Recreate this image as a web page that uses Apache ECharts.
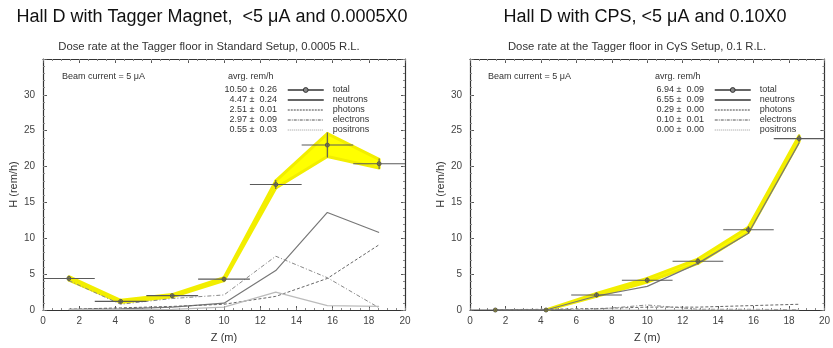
<!DOCTYPE html>
<html>
<head>
<meta charset="utf-8">
<script src="https://cdn.jsdelivr.net/npm/echarts@6/dist/echarts.min.js"></script>
<style>html,body{margin:0;padding:0;background:#fff;}#c{width:833px;height:348px;}</style>
</head>
<body>
<div id="c"></div>
<script>
// ---- data ----
const binCenters = [1.43, 4.29, 7.14, 10.0, 12.86, 15.71, 18.57];
const binLo = [0, 2.86, 5.71, 8.57, 11.43, 14.29, 17.14];
const binHi = [2.86, 5.71, 8.57, 11.43, 14.29, 17.14, 20];

const totalL = [4.4, 1.2, 2.0, 4.3, 17.5, 23.0, 20.4];
const errL = [0.25, 0.15, 0.15, 0.2, 0.5, 1.6, 0.6];
const neutronsL = [0.1, 0.15, 0.4, 0.95, 5.5, 13.6, 10.8];
const photonsL = [0.1, 0.3, 0.5, 0.8, 1.9, 4.4, 9.1];
const electronsL = [4.1, 0.8, 1.6, 2.1, 7.5, 4.5, 0.3];
const positronsL = [0.05, 0.05, 0.1, 0.4, 2.5, 0.6, 0.5];

const totalR = [0.0, 0.0, 2.1, 4.15, 6.8, 11.2, 23.9];
const errR = [0.0, 0.0, 0.2, 0.25, 0.3, 0.35, 0.4];
const neutronsR = [0.0, 0.0, 1.95, 3.3, 6.5, 10.7, 23.3];
const photonsR = [0.05, 0.1, 0.2, 0.4, 0.4, 0.6, 0.8];
const electronsR = [0.0, 0.05, 0.1, 0.7, 0.1, 0.1, 0.05];
const positronsR = [0, 0, 0, 0, 0, 0, 0];

const avgL = ['10.50 \u00b1  0.26', '4.47 \u00b1  0.24', '2.51 \u00b1  0.01', '2.97 \u00b1  0.09', '0.55 \u00b1  0.03'];
const avgR = ['6.94 \u00b1  0.09', '6.55 \u00b1  0.09', '0.29 \u00b1  0.00', '0.10 \u00b1  0.01', '0.00 \u00b1  0.00'];

const mainTitleL = 'Hall D with Tagger Magnet,  <5 \u03bcA and 0.0005X0';
const mainTitleR = 'Hall D with CPS, <5 \u03bcA and 0.10X0';
const subTitleL = 'Dose rate at the Tagger floor in Standard Setup, 0.0005 R.L.';
const subTitleR = 'Dose rate at the Tagger floor in C\u03b3S Setup, 0.1 R.L.';
const beamText = 'Beam current = 5 \u03bcA';

// ---- helpers ----
const FONT = 'Liberation Sans, Arial, sans-serif';
const pairs = (xs, ys) => xs.map((x, i) => [x, ys[i]]);
const AX_PER_GRID = 4;

function axesFor(gi) {
  function mk(dir, pos, major, labeled) {
    const isX = dir === 'x';
    const a = {
      type: 'value', gridIndex: gi, position: pos, min: 0,
      max: isX ? 20 : 35,
      interval: isX ? (major ? 2 : 0.5) : (major ? 5 : 1),
      axisLine: { show: major, onZero: false, lineStyle: { color: '#333', width: 1.2 } },
      axisTick: { show: true, inside: true, length: major ? 4 : 2,
        lineStyle: { color: major ? '#555' : '#888' } },
      splitLine: { show: false },
      axisLabel: { show: false }
    };
    if (labeled) {
      a.axisLabel = { show: true, color: '#444', fontSize: 10, fontFamily: FONT,
        margin: isX ? 6 : 8, formatter: v => (v > 30 ? '' : v) };
      if (isX) {
        a.name = 'Z (m)'; a.nameLocation = 'middle'; a.nameGap = 22;
      } else {
        a.name = 'H (rem/h)'; a.nameLocation = 'middle'; a.nameGap = 24; a.nameRotate = 90;
      }
      a.nameTextStyle = { color: '#333', fontSize: 11, fontFamily: FONT };
    }
    return a;
  }
  return {
    x: [mk('x', 'bottom', true, true), mk('x', 'bottom', false, false),
        mk('x', 'top', true, false), mk('x', 'top', false, false)],
    y: [mk('y', 'left', true, true), mk('y', 'left', false, false),
        mk('y', 'right', true, false), mk('y', 'right', false, false)]
  };
}

function seriesFor(gi, total, err, neu, pho, ele, pos) {
  const xi = gi * AX_PER_GRID, yi = gi * AX_PER_GRID;
  const base = { xAxisIndex: xi, yAxisIndex: yi, showSymbol: false, symbol: 'none', animation: false };
  const segs = [];
  for (let i = 0; i < binCenters.length - 1; i++) {
    segs.push([binCenters[i], total[i] - err[i], total[i] + err[i],
               binCenters[i + 1], total[i + 1] - err[i + 1], total[i + 1] + err[i + 1]]);
  }
  return [
    {
      type: 'custom', name: 'band' + gi, xAxisIndex: xi, yAxisIndex: yi, z: 1, animation: false,
      data: segs,
      renderItem: function (params, api) {
        const x0 = api.value(0), l0 = api.value(1), h0 = api.value(2);
        const x1 = api.value(3), l1 = api.value(4), h1 = api.value(5);
        if (h0 <= 0 && h1 <= 0) return null;
        const pts = [api.coord([x0, h0]), api.coord([x1, h1]), api.coord([x1, l1]), api.coord([x0, l0])];
        return { type: 'polygon', shape: { points: pts },
          style: { fill: '#ffff00', stroke: '#f2ee00', lineWidth: 3, lineJoin: 'round' } };
      }
    },
    Object.assign({}, base, { type: 'line', name: 'neutrons', data: pairs(binCenters, neu),
      lineStyle: { color: '#777', width: 1.2 }, itemStyle: { color: '#555' }, z: 3 }),
    Object.assign({}, base, { type: 'line', name: 'photons', data: pairs(binCenters, pho),
      lineStyle: { color: '#666', width: 1, type: [3, 2] }, itemStyle: { color: '#555' }, z: 3 }),
    Object.assign({}, base, { type: 'line', name: 'electrons', data: pairs(binCenters, ele),
      lineStyle: { color: '#888', width: 1, type: [4, 2, 1, 2] }, itemStyle: { color: '#777' }, z: 3 }),
    Object.assign({}, base, { type: 'line', name: 'positrons', data: pairs(binCenters, pos),
      lineStyle: { color: '#bbb', width: 1.2 }, itemStyle: { color: '#aaa' }, z: 3 }),
    Object.assign({}, base, { type: 'line', name: 'total', data: pairs(binCenters, total),
      showSymbol: true, symbol: 'circle', symbolSize: 4,
      itemStyle: { color: '#b8b000', borderColor: '#555', borderWidth: 1 },
      lineStyle: { color: '#ffff00', width: 0 }, z: 4 }),
    {
      type: 'custom', name: 'errbars' + gi, xAxisIndex: xi, yAxisIndex: yi, z: 5, animation: false,
      data: binCenters.map((c, i) => [c, total[i], err[i], binLo[i], binHi[i]]),
      renderItem: function (params, api) {
        const c = api.value(0), y = api.value(1), e = api.value(2), lo = api.value(3), hi = api.value(4);
        const pL = api.coord([lo, y]), pR = api.coord([hi, y]);
        const pT = api.coord([c, y + e]), pB = api.coord([c, y - e]);
        const st = { stroke: '#5a5a5a', lineWidth: 1.1, fill: null };
        return { type: 'group', children: [
          { type: 'line', shape: { x1: pL[0], y1: pL[1], x2: pR[0], y2: pR[1] }, style: st },
          { type: 'line', shape: { x1: pT[0], y1: pT[1] - 1, x2: pB[0], y2: pB[1] + 1 }, style: st }
        ] };
      }
    }
  ];
}

function legendFor(left) {
  const hide = { opacity: 0, color: 'rgba(0,0,0,0)', borderWidth: 0 };
  return {
    orient: 'vertical', left: left, top: 85, padding: 0,
    itemWidth: 36, itemHeight: 6, itemGap: 0,
    selectedMode: false,
    textStyle: { color: '#333', fontSize: 9, lineHeight: 10, fontFamily: FONT, padding: [0, 0, 0, 4] },
    data: [
      { name: 'total', itemStyle: { color: '#888', borderColor: '#333', borderWidth: 1 },
        lineStyle: { color: '#333', width: 1.5, type: 'solid', opacity: 1 } },
      { name: 'neutrons', itemStyle: hide, lineStyle: { color: '#333', width: 1.3, type: 'solid' } },
      { name: 'photons', itemStyle: hide, lineStyle: { color: '#444', width: 1, type: [2, 1] } },
      { name: 'electrons', itemStyle: hide, lineStyle: { color: '#555', width: 1, type: [3, 1, 1, 1] } },
      { name: 'positrons', itemStyle: hide, lineStyle: { color: '#999', width: 1, type: [1, 1] } }
    ]
  };
}

function textEl(x, y, text, size, color, align) {
  return {
    type: 'text', x: x, y: y, silent: true,
    style: { text: text, fontSize: size, fill: color, fontFamily: FONT,
      textAlign: align || 'left', textVerticalAlign: 'middle' }
  };
}

const axL = axesFor(0), axR = axesFor(1);
const chart = echarts.init(document.getElementById('c'), null, { renderer: 'canvas' });
chart.setOption({
  animation: false,
  backgroundColor: '#fff',
  grid: [
    { left: 43, right: 428, top: 59, bottom: 36 },
    { left: 470, right: 4, top: 59, bottom: 36 }
  ],
  xAxis: axL.x.concat(axR.x),
  yAxis: axL.y.concat(axR.y),
  legend: [legendFor(287), legendFor(714)],
  series: seriesFor(0, totalL, errL, neutronsL, photonsL, electronsL, positronsL)
    .concat(seriesFor(1, totalR, errR, neutronsR, photonsR, electronsR, positronsR)),
  graphic: [
    textEl(212, 17, mainTitleL, 18, '#111', 'center'),
    textEl(645, 17, mainTitleR, 18, '#111', 'center'),
    textEl(209, 47, subTitleL, 11.3, '#333', 'center'),
    textEl(637, 47, subTitleR, 11.3, '#333', 'center'),
    textEl(62, 77, beamText, 9, '#333'),
    textEl(488, 77, beamText, 9, '#333'),
    textEl(228, 77, 'avrg. rem/h', 9, '#333'),
    textEl(655, 77, 'avrg. rem/h', 9, '#333'),
    { type: 'text', x: 277, y: 85, silent: true,
      style: { text: avgL.join('\n'), fontSize: 9, lineHeight: 10, fill: '#333', fontFamily: FONT,
        textAlign: 'right', textVerticalAlign: 'top' } },
    { type: 'text', x: 704, y: 85, silent: true,
      style: { text: avgR.join('\n'), fontSize: 9, lineHeight: 10, fill: '#333', fontFamily: FONT,
        textAlign: 'right', textVerticalAlign: 'top' } }
  ]
});
</script>
</body>
</html>
